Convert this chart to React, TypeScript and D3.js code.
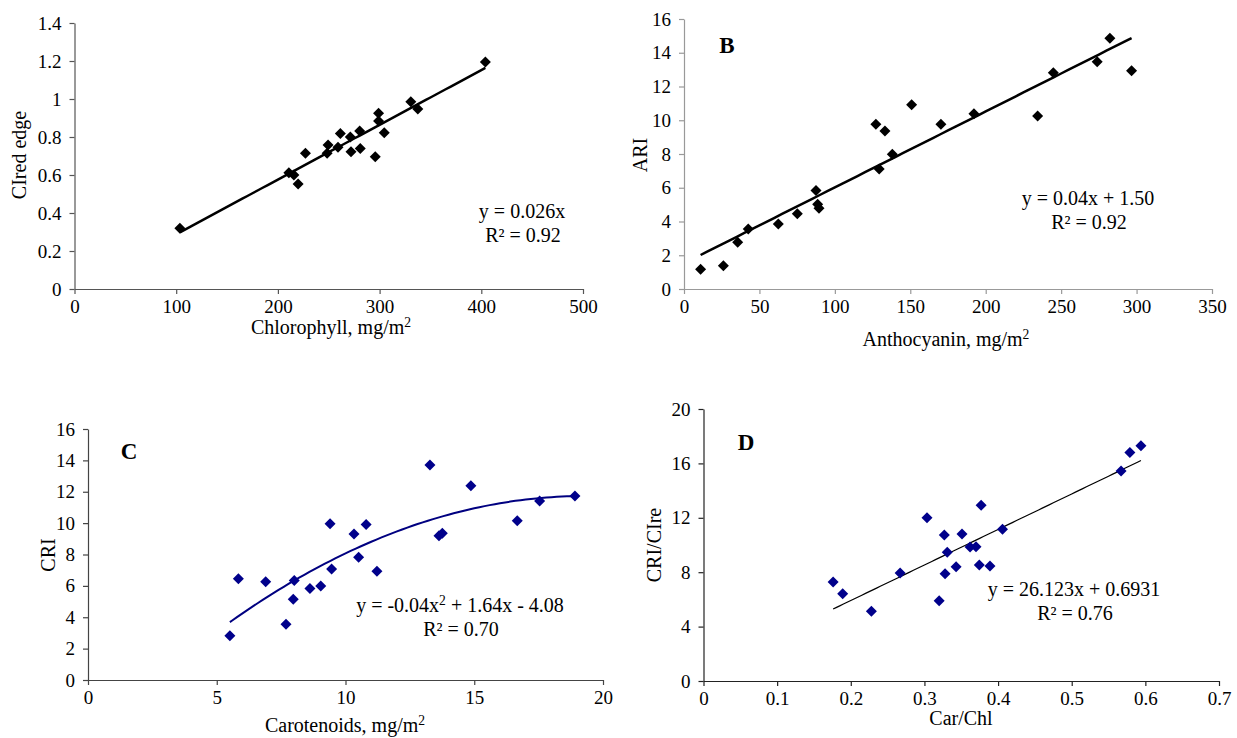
import React, { useEffect, useRef } from 'react';
import * as d3 from 'd3';

// A: chlorophyll vs CIred edge
const chlA = [103.6, 210.8, 215.7, 219.9, 227.1, 249.3, 248.4, 259.1, 261.4, 271.2, 271.9, 280.4, 281.0, 295.7, 299, 299, 304.6, 330.7, 337.6, 404];
const ciRedEdgeA = [0.32, 0.612, 0.6, 0.553, 0.714, 0.758, 0.714, 0.746, 0.819, 0.8, 0.723, 0.832, 0.74, 0.696, 0.925, 0.884, 0.823, 0.986, 0.947, 1.195];
const xTicksA = [0, 100, 200, 300, 400, 500];
const yTicksA = [0, 0.2, 0.4, 0.6, 0.8, 1, 1.2, 1.4];

// B: anthocyanin vs ARI
const anthB = [11.0, 26.1, 35.6, 42.6, 62.5, 75.1, 87.5, 88.6, 89.5, 127.2, 129.4, 133.2, 138.1, 150.9, 170.3, 192.2, 234.4, 244.8, 273.9, 282.3, 296.7];
const ariB = [1.17, 1.38, 2.77, 3.56, 3.85, 4.46, 5.83, 5.02, 4.78, 9.76, 7.11, 9.36, 7.98, 10.92, 9.76, 10.39, 10.25, 12.82, 13.47, 14.86, 12.94];
const xTicksB = [0, 50, 100, 150, 200, 250, 300, 350];
const yTicksB = [0, 2, 4, 6, 8, 10, 12, 14, 16];

// C: carotenoids vs CRI
const carC = [5.51, 5.84, 6.90, 7.69, 7.97, 8.01, 8.62, 9.04, 9.40, 9.46, 10.33, 10.51, 10.80, 11.22, 13.28, 13.63, 13.76, 14.87, 16.67, 17.54, 18.91];
const criC = [2.82, 6.46, 6.27, 3.55, 5.14, 6.35, 5.84, 5.99, 9.96, 7.07, 9.31, 7.82, 9.92, 6.93, 13.70, 9.20, 9.35, 12.38, 10.15, 11.41, 11.73];
const xTicksC = [0, 5, 10, 15, 20];
const yTicksC = [0, 2, 4, 6, 8, 10, 12, 14, 16];

// D: Car/Chl vs CRI/CIre
const carChlD = [0.176, 0.189, 0.228, 0.267, 0.3035, 0.320, 0.327, 0.328, 0.331, 0.343, 0.351, 0.362, 0.370, 0.3745, 0.377, 0.389, 0.406, 0.567, 0.579, 0.594];
const criCireD = [7.28, 6.42, 5.12, 7.94, 12.01, 5.90, 10.74, 7.89, 9.46, 8.40, 10.81, 9.85, 9.88, 8.53, 12.92, 8.46, 11.15, 15.44, 16.81, 17.30];
const xTicksD = [0, 0.1, 0.2, 0.3, 0.4, 0.5, 0.6, 0.7];
const yTicksD = [0, 4, 8, 12, 16, 20];

// trendline coefficients [a (x^2), b (x), c] as drawn
const fitA = [0, 0.00288, 0];
const fitB = [0, 0.045, 1.52];
const fitC = [-0.0422, 1.63, -4.01];
const fitD = [0, 26.123, 0.6931];

const FONT = '"Liberation Serif", "Times New Roman", serif';

const panels = [
  {
    xs: chlA, ys: ciRedEdgeA, xTicks: xTicksA, yTicks: yTicksA, fit: fitA,
    xRange: [74.5, 583], yRange: [289, 23], axisColor: '#555',
    dot: '#000', lineColor: '#000', lineWidth: 2.5,
    xTitle: ['Chlorophyll, mg/m', '2'], xTitlePos: [331, 334],
    yTitle: 'CIred edge', yTitlePos: [26, 155],
    letter: '', letterPos: [0, 0],
    eq: [['y = 0.026x']], eqPos: [522, 218],
    r2: 'R² = 0.92',
  },
  {
    xs: anthB, ys: ariB, xTicks: xTicksB, yTicks: yTicksB, fit: fitB,
    xRange: [684, 1212], yRange: [289, 19], axisColor: '#999',
    dot: '#000', lineColor: '#000', lineWidth: 2.5,
    xTitle: ['Anthocyanin, mg/m', '2'], xTitlePos: [946, 346],
    yTitle: 'ARI', yTitlePos: [647, 155],
    letter: 'B', letterPos: [727, 53],
    eq: [['y = 0.04x + 1.50']], eqPos: [1088, 205],
    r2: 'R² = 0.92',
  },
  {
    xs: carC, ys: criC, xTicks: xTicksC, yTicks: yTicksC, fit: fitC,
    xRange: [88, 603], yRange: [680, 429], axisColor: '#444',
    dot: '#00008b', lineColor: '#000080', lineWidth: 2,
    xTitle: ['Carotenoids, mg/m', '2'], xTitlePos: [345, 732],
    yTitle: 'CRI', yTitlePos: [55, 555],
    letter: 'C', letterPos: [129, 459],
    eq: [['y = -0.04x', '2', ' + 1.64x - 4.08']], eqPos: [460, 612],
    r2: 'R² = 0.70',
  },
  {
    xs: carChlD, ys: criCireD, xTicks: xTicksD, yTicks: yTicksD, fit: fitD,
    xRange: [703.5, 1219], yRange: [681, 409], axisColor: '#222',
    dot: '#00008b', lineColor: '#000', lineWidth: 1.2,
    xTitle: ['Car/Chl'], xTitlePos: [961, 725],
    yTitle: 'CRI/CIre', yTitlePos: [661, 545],
    letter: 'D', letterPos: [746, 450],
    eq: [['y = 26.123x + 0.6931']], eqPos: [1074, 596],
    r2: 'R² = 0.76',
  },
];

// text with optional superscript parts: [normal, sup, normal, ...]
function addText(g: any, parts: string[], x: number, y: number, size: number) {
  const t = g.append('text')
    .attr('x', x).attr('y', y)
    .attr('text-anchor', 'middle')
    .style('font-family', FONT)
    .style('font-size', `${size}px`)
    .attr('fill', '#000');
  parts.forEach((p, i) => {
    if (i % 2 === 1) {
      t.append('tspan').attr('dy', -7).style('font-size', `${size * 0.68}px`).text(p);
    } else {
      t.append('tspan').attr('dy', i === 0 ? 0 : 7).text(p);
    }
  });
  return t;
}

export default function App() {
  const ref = useRef<SVGSVGElement>(null);

  useEffect(() => {
    const svg = d3.select(ref.current);
    svg.selectAll('*').remove();

    const diamond = 'M0,-5.5L5.5,0L0,5.5L-5.5,0Z';

    panels.forEach((p) => {
      const g = svg.append('g');
      const xDom = [p.xTicks[0], p.xTicks[p.xTicks.length - 1]];
      const yDom = [p.yTicks[0], p.yTicks[p.yTicks.length - 1]];
      const x = d3.scaleLinear().domain(xDom).range(p.xRange);
      const y = d3.scaleLinear().domain(yDom).range(p.yRange);

      // axes
      const xAxis = g.append('g')
        .attr('transform', `translate(0,${p.yRange[0]})`)
        .call(d3.axisBottom(x).tickValues(p.xTicks).tickSize(5).tickSizeOuter(0).tickPadding(6).tickFormat((d: any) => String(d)));
      const yAxis = g.append('g')
        .attr('transform', `translate(${p.xRange[0]},0)`)
        .call(d3.axisLeft(y).tickValues(p.yTicks).tickSize(5).tickSizeOuter(0).tickPadding(8).tickFormat((d: any) => String(d)));
      [xAxis, yAxis].forEach((a) => {
        a.attr('font-family', FONT).attr('font-size', 19);
        a.selectAll('path, line').attr('stroke', p.axisColor).attr('stroke-width', 1.2);
        a.selectAll('text')
          .style('font-family', FONT)
          .style('font-size', '19px')
          .attr('fill', '#000');
      });

      // trendline
      const [a, b, c] = p.fit;
      const xMin = d3.min(p.xs) as number;
      const xMax = d3.max(p.xs) as number;
      const samples = d3.ticks(xMin, xMax, 60);
      const pts = [xMin, ...samples.filter((v) => v > xMin && v < xMax), xMax];
      const line = d3.line<number>()
        .x((v) => x(v))
        .y((v) => y(a * v * v + b * v + c));
      g.append('path')
        .attr('d', line(pts))
        .attr('fill', 'none')
        .attr('stroke', p.lineColor)
        .attr('stroke-width', p.lineWidth);

      // points
      g.append('g')
        .selectAll('path')
        .data(p.xs.map((v, i) => [v, p.ys[i]]))
        .enter()
        .append('path')
        .attr('d', diamond)
        .attr('transform', (d) => `translate(${x(d[0])},${y(d[1])})`)
        .attr('fill', p.dot);

      // titles
      addText(g, p.xTitle, p.xTitlePos[0], p.xTitlePos[1], 20);
      g.append('text')
        .attr('transform', `translate(${p.yTitlePos[0]},${p.yTitlePos[1]}) rotate(-90)`)
        .attr('text-anchor', 'middle')
        .style('font-family', FONT)
        .style('font-size', '20px')
        .text(p.yTitle);

      if (p.letter) {
        g.append('text')
          .attr('x', p.letterPos[0]).attr('y', p.letterPos[1])
          .attr('text-anchor', 'middle')
          .style('font-family', FONT)
          .style('font-weight', 'bold')
          .style('font-size', '23px')
          .text(p.letter);
      }

      // equation + R²
      addText(g, p.eq[0], p.eqPos[0], p.eqPos[1], 20);
      addText(g, [p.r2], p.eqPos[0] + 1, p.eqPos[1] + 24, 20);
    });
  }, []);

  return (
    <svg
      ref={ref}
      width={1237}
      height={738}
      style={{ position: 'absolute', left: 0, top: 0, background: '#fff' }}
    />
  );
}
